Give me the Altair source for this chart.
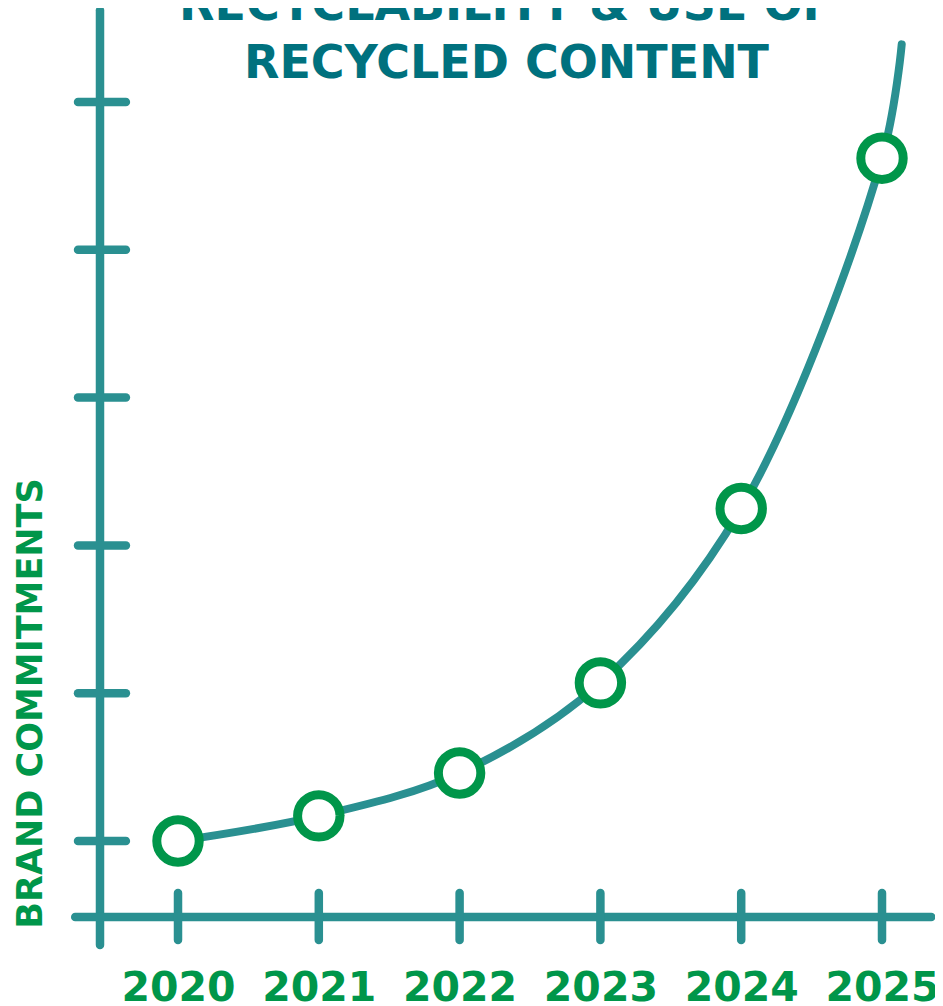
import altair as alt
import pandas as pd

# ---- data ----
years = [2020, 2021, 2022, 2023, 2024, 2025]
commitments = [1.0, 1.17, 1.46, 2.07, 3.25, 5.62]
curve_years = [2020, 2021, 2022, 2023, 2024, 2025, 2025.14]
curve_values = [1.0, 1.17, 1.46, 2.07, 3.25, 5.62, 6.39]
ytick_values = [1, 2, 3, 4, 5, 6]

TEAL = "#2a9091"
GREEN = "#00964a"
TITLE_C = "#00717e"
FONT = "DejaVu Sans"

# scales (view covers the whole page area)
X_DOMAIN = [2018.7926, 2025.3764]
Y_DOMAIN = [-0.1299, 6.636]
xs = alt.Scale(domain=X_DOMAIN, nice=False, zero=False)
ys = alt.Scale(domain=Y_DOMAIN, nice=False, zero=False)

# axis frame geometry (in data units)
Y_AXIS_X = 2019.446
Y_AXIS_BOTTOM, Y_AXIS_TOP = 0.296, 6.62
X_AXIS_Y = 0.486
X_AXIS_LEFT, X_AXIS_RIGHT = 2019.27, 2025.35
YTICK_L, YTICK_R = 2019.29, 2019.63
XTICK_B, XTICK_T = 0.33, 0.648

frame_rows = [
    {"x": Y_AXIS_X, "x2": Y_AXIS_X, "y": Y_AXIS_BOTTOM, "y2": Y_AXIS_TOP},
    {"x": X_AXIS_LEFT, "x2": X_AXIS_RIGHT, "y": X_AXIS_Y, "y2": X_AXIS_Y},
]
frame_rows += [{"x": YTICK_L, "x2": YTICK_R, "y": v, "y2": v} for v in ytick_values]
frame_rows += [{"x": yr, "x2": yr, "y": XTICK_B, "y2": XTICK_T} for yr in years]
frame = pd.DataFrame(frame_rows)

pts = pd.DataFrame({"year": years, "value": commitments})
curve = pd.DataFrame({"year": curve_years, "value": curve_values})

x_axis = alt.Axis(
    orient="bottom", offset=-91, domain=False, ticks=False, grid=False,
    values=years, format="d", labelFont=FONT, labelFontWeight="bold",
    labelFontSize=41, labelColor=GREEN, labelPadding=51,
    labelFlush=False, labelOverlap=False, labelBound=False, title=None,
)
y_axis = alt.Axis(
    domain=False, ticks=False, labels=False, grid=False,
    title="BRAND COMMITMENTS", titleFont=FONT, titleFontWeight="bold",
    titleFontSize=35, titleColor=GREEN, titleAngle=270, titleX=22, titleY=695,
    titleAlign="center", titleBaseline="middle",
)

rules = alt.Chart(frame).mark_rule(color=TEAL, strokeWidth=8.5, strokeCap="round").encode(
    x=alt.X("x:Q", scale=xs, axis=x_axis),
    x2="x2:Q",
    y=alt.Y("y:Q", scale=ys, axis=y_axis),
    y2="y2:Q",
)

line = alt.Chart(curve).mark_line(color=TEAL, strokeWidth=8, interpolate="catmull-rom", strokeCap="round").encode(
    x=alt.X("year:Q", scale=xs),
    y=alt.Y("value:Q", scale=ys),
)

points = alt.Chart(pts).mark_point(
    shape="circle", filled=True, fill="white", stroke=GREEN, strokeWidth=9,
    size=1800, opacity=1,
).encode(
    x=alt.X("year:Q", scale=xs),
    y=alt.Y("value:Q", scale=ys),
)

chart = alt.layer(rules, line, points).properties(
    width=927, height=1000,
    autosize=alt.AutoSizeParams(type="none"),
    padding=0,
    title=alt.Title(
        text=["RECYCLABILITY & USE OF", "RECYCLED CONTENT"],
        font=FONT, fontWeight="bold", fontSize=46, color=TITLE_C,
        anchor="middle", baseline="alphabetic", lineHeight=58,
        offset=-118, dx=35,
    ),
).configure_view(strokeWidth=0)

chart.save("out.html", embed_options={"renderer": "svg", "actions": False})
